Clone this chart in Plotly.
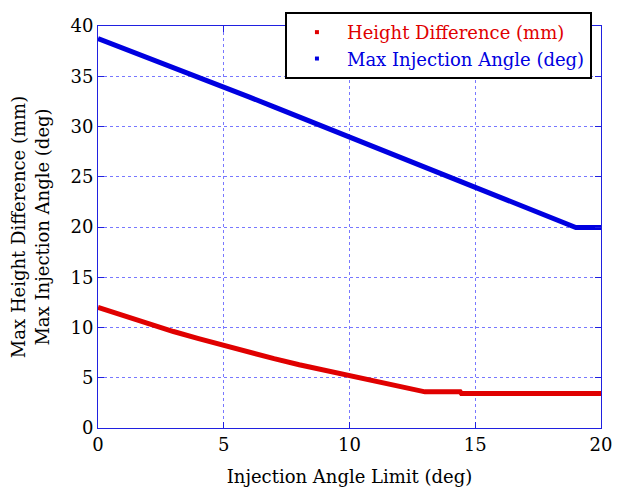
import plotly.graph_objects as go

# Injection angle limit (deg) sample positions and readings
x_red = [0, 1, 2, 3, 4, 5, 6, 7, 8, 9, 10, 11, 12, 13, 14.4, 14.45, 20]
height_diff = [12.0, 11.2, 10.35, 9.6, 8.9, 8.2, 7.55, 6.9, 6.3, 5.75, 5.2, 4.65, 4.1, 3.6, 3.6, 3.43, 3.43]

x_blue = [0, 1, 2, 3, 4, 5, 6, 7, 8, 9, 9.35, 9.6, 10, 11, 12, 13, 14, 15, 16, 17, 18, 19, 20]
max_angle = [38.75, 37.8, 36.8, 35.85, 34.9, 33.9, 32.95, 31.95, 30.95, 29.95, 29.6, 29.45,
             29.05, 28.05, 27.05, 26.05, 25.05, 24.0, 23.0, 22.0, 21.0, 19.95, 19.95]

x_ticks = [0, 5, 10, 15, 20]
y_ticks = [0, 5, 10, 15, 20, 25, 30, 35, 40]

FONT = "DejaVu Serif"
FS = 18
RED = "#e00000"
BLUE = "#0000e0"

fig = go.Figure()
fig.add_trace(go.Scatter(x=x_red, y=height_diff, mode="lines",
                         line=dict(color=RED, width=5), showlegend=False))
fig.add_trace(go.Scatter(x=x_blue, y=max_angle, mode="lines",
                         line=dict(color=BLUE, width=5), showlegend=False))
# legend entries
fig.add_trace(go.Scatter(x=[None], y=[None], mode="markers",
                         marker=dict(color=RED, size=4, symbol="square"),
                         name="<span style='color:#e00000'>Height Difference (mm)</span>"))
fig.add_trace(go.Scatter(x=[None], y=[None], mode="markers",
                         marker=dict(color=BLUE, size=4, symbol="square"),
                         name="<span style='color:#0000e0'>Max Injection Angle (deg)</span>"))

axis_common = dict(
    showline=True, linecolor="#2020e0", linewidth=1, mirror="ticks",
    ticks="inside", ticklen=6, tickcolor="#2020e0",
    showgrid=True, gridcolor="rgba(30,30,255,0.6)", griddash="dot", gridwidth=1,
    zeroline=False, automargin=False,
    tickfont=dict(family=FONT, size=FS, color="black"),
)

fig.update_xaxes(range=[0, 20], tickvals=x_ticks,
                 title=dict(text="Injection Angle Limit (deg)", font=dict(family=FONT, size=FS, color="black"),
                            standoff=16),
                 **axis_common)
fig.update_yaxes(range=[0, 40], tickvals=y_ticks,
                 title=dict(text="Max Height Difference (mm)<br>Max Injection Angle (deg)",
                            font=dict(family=FONT, size=FS, color="black"), standoff=16),
                 **axis_common)

fig.update_layout(
    width=618, height=488,
    margin=dict(l=98, r=17, t=24, b=60),
    plot_bgcolor="white", paper_bgcolor="white",
    font=dict(family=FONT, size=FS, color="black"),
    legend=dict(x=0.982, y=1.035, xanchor="right", yanchor="top",
                bgcolor="white", bordercolor="black", borderwidth=2,
                font=dict(family=FONT, size=FS), itemwidth=50,
                tracegroupgap=0),
)

fig.write_html("out.html", config={"displayModeBar": False},
               post_script="document.body.style.margin='0px';")
